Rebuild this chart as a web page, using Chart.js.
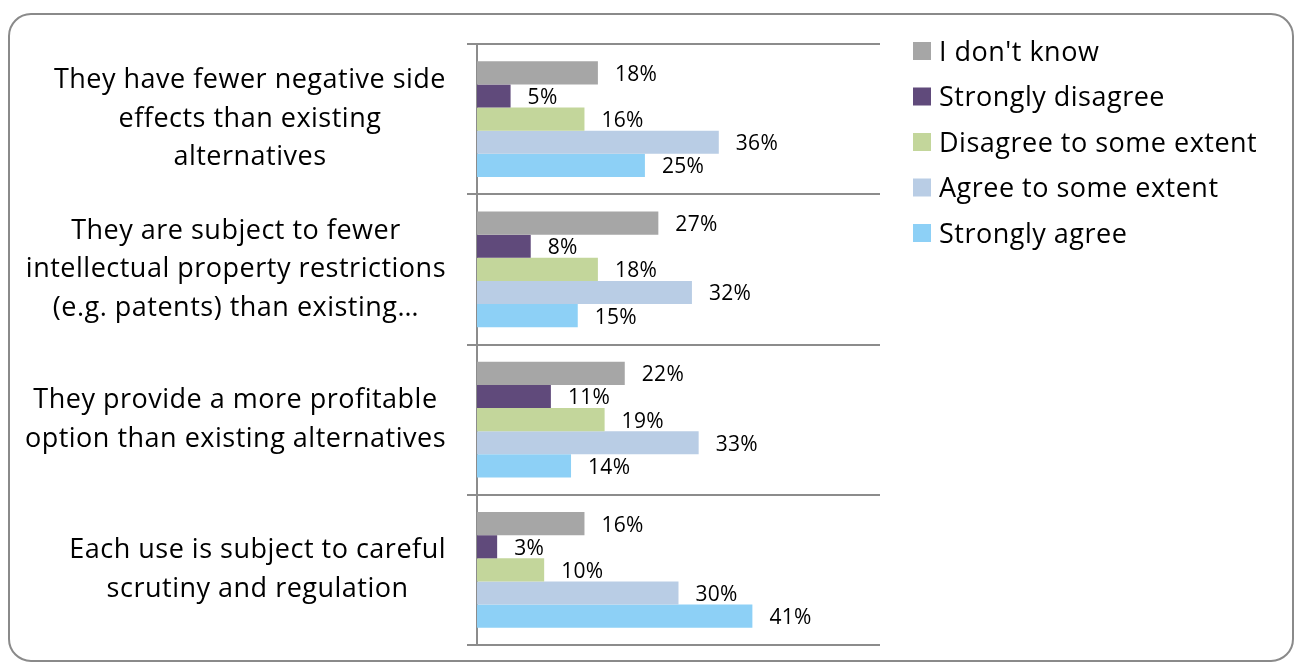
<!DOCTYPE html>
<html>
<head>
<meta charset="utf-8">
<script src="https://cdn.jsdelivr.net/npm/chart.js@4.4.1/dist/chart.umd.min.js"></script>
<style>
html,body{margin:0;padding:0;background:#fff;}
#wrap{position:relative;width:1296px;height:664px;}
</style>
</head>
<body>
<div id="wrap"><canvas id="c" width="1296" height="664"></canvas></div>
<script>
const categories = [
  ["They have fewer negative side", "effects than existing", "alternatives"],
  ["They are subject to fewer", "intellectual property restrictions", "(e.g. patents) than existing…"],
  ["They provide a more profitable", "option than existing alternatives"],
  ["Each use is subject to careful", "scrutiny and regulation"]
];
const seriesNames = ["I don't know", "Strongly disagree", "Disagree to some extent", "Agree to some extent", "Strongly agree"];
const dontKnow = [18, 27, 22, 16];
const stronglyDisagree = [5, 8, 11, 3];
const disagreeSome = [16, 18, 19, 10];
const agreeSome = [36, 32, 33, 30];
const stronglyAgree = [25, 15, 14, 41];
const seriesColors = ["#A6A6A6", "#604A7B", "#C3D69B", "#B9CDE5", "#8DD0F6"];
const xMax = 60;

const FONT = '"Open Sans", "DejaVu Sans", sans-serif';

const frame = {
  id: 'frame',
  beforeDraw(chart) {
    const ctx = chart.ctx;
    ctx.save();
    ctx.strokeStyle = '#8a8a8a';
    ctx.lineWidth = 2;
    ctx.beginPath();
    ctx.roundRect(9, 14, 1284, 647, 22);
    ctx.stroke();
    ctx.restore();
  }
};

const yLabels = {
  id: 'yLabels',
  afterDraw(chart) {
    const ctx = chart.ctx;
    const y = chart.scales.y;
    ctx.save();
    ctx.font = '27px ' + FONT;
    ctx.letterSpacing = '0.5px';
    ctx.fillStyle = '#000';
    ctx.textBaseline = 'middle';
    ctx.textAlign = 'center';
    const lh = 38.5;
    const right = chart.chartArea.left - 31;
    categories.forEach((lines, i) => {
      const cy = y.getPixelForValue(i);
      let w = 0;
      lines.forEach(l => { w = Math.max(w, ctx.measureText(l).width); });
      const cx = right - w / 2;
      const y0 = cy - (lines.length - 1) * lh / 2;
      lines.forEach((l, k) => ctx.fillText(l, cx, y0 + k * lh));
    });
    ctx.restore();
  }
};

const dataLabels = {
  id: 'dataLabels',
  afterDatasetsDraw(chart) {
    const ctx = chart.ctx;
    ctx.save();
    ctx.font = '21px ' + FONT;
    ctx.letterSpacing = '0.3px';
    ctx.fillStyle = '#000';
    ctx.textBaseline = 'middle';
    ctx.textAlign = 'left';
    chart.data.datasets.forEach((ds, di) => {
      const meta = chart.getDatasetMeta(di);
      meta.data.forEach((bar, i) => {
        ctx.fillText(ds.data[i] + '%', bar.x + 17, bar.y + 2);
      });
    });
    ctx.restore();
  }
};

const legendPlugin = {
  id: 'customLegend',
  afterDraw(chart) {
    const ctx = chart.ctx;
    ctx.save();
    ctx.font = '27px ' + FONT;
    ctx.letterSpacing = '0.5px';
    ctx.textBaseline = 'middle';
    ctx.textAlign = 'left';
    const x0 = chart.chartArea.right + 33;
    const y0 = 51;
    const step = 45.5;
    chart.data.datasets.forEach((ds, i) => {
      const cy = y0 + i * step;
      ctx.fillStyle = ds.backgroundColor;
      ctx.fillRect(x0, cy - 9, 18, 18);
      ctx.fillStyle = '#000';
      ctx.fillText(ds.label, x0 + 26, cy + 2);
    });
    ctx.restore();
  }
};

const seriesData = [dontKnow, stronglyDisagree, disagreeSome, agreeSome, stronglyAgree];

new Chart(document.getElementById('c'), {
  type: 'bar',
  data: {
    labels: categories.map(c => c.join(' ')),
    datasets: seriesNames.map((n, i) => ({
      label: n,
      data: seriesData[i],
      backgroundColor: seriesColors[i],
      borderWidth: 0,
      categoryPercentage: 0.77,
      barPercentage: 1.0
    }))
  },
  options: {
    indexAxis: 'y',
    responsive: false,
    animation: false,
    devicePixelRatio: 1,
    layout: { padding: { top: 44, bottom: 19, right: 416, left: 0 } },
    plugins: { legend: { display: false }, tooltip: { enabled: false } },
    scales: {
      x: { display: false, min: 0, max: xMax },
      y: {
        offset: true,
        ticks: { display: false },
        grid: { offset: true, color: '#8c8c8c', lineWidth: 2, tickLength: 10, drawTicks: true },
        border: { display: true, color: '#8c8c8c', width: 2 },
        afterFit(s) { s.width = 477; }
      }
    }
  },
  plugins: [frame, yLabels, dataLabels, legendPlugin]
});
</script>
</body>
</html>
